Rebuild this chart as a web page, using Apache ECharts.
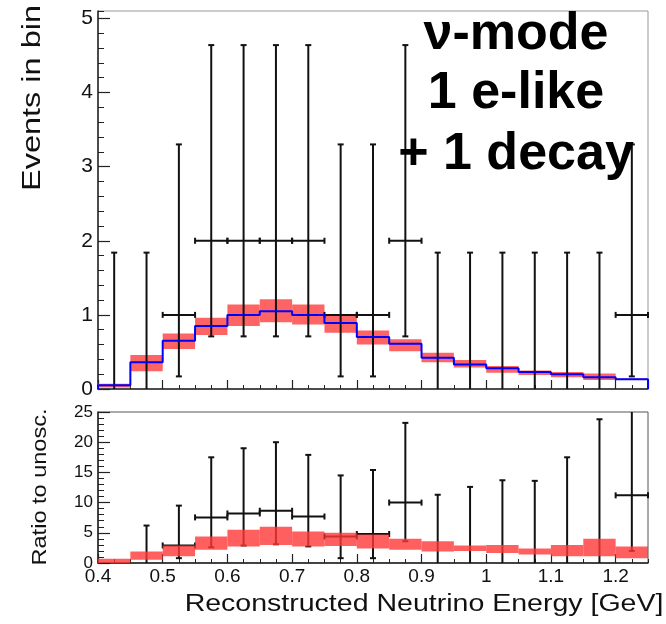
<!DOCTYPE html>
<html>
<head>
<meta charset="utf-8">
<script src="https://cdn.jsdelivr.net/npm/echarts@6/dist/echarts.min.js"></script>
<style>html,body{margin:0;padding:0;background:#fff}#chart{width:666px;height:624px}</style>
</head>
<body>
<div id="chart"></div>
<script>
// Bin edges (GeV)
const binEdges = [0.4, 0.45, 0.5, 0.55, 0.6, 0.65, 0.7, 0.75, 0.8, 0.85, 0.9, 0.95, 1.0, 1.05, 1.1, 1.15, 1.2, 1.25];
// Top panel: prediction (blue) and its uncertainty band (red)
const predicted = [0.05, 0.36, 0.65, 0.85, 1.0, 1.05, 1.0, 0.89, 0.70, 0.61, 0.42, 0.33, 0.28, 0.23, 0.20, 0.16, 0.13];
const bandLow  = [0.02, 0.24, 0.54, 0.73, 0.85, 0.90, 0.87, 0.76, 0.60, 0.51, 0.36, 0.29, 0.22, 0.19, 0.16, 0.12, 0.12];
const bandHigh = [0.07, 0.46, 0.75, 0.96, 1.14, 1.21, 1.14, 1.01, 0.79, 0.67, 0.49, 0.39, 0.31, 0.25, 0.23, 0.21, 0.14];
// Top panel: observed events with Poisson error bars
const dataCounts = [0, 0, 1, 2, 2, 2, 2, 1, 1, 2, 0, 0, 0, 0, 0, 0, 1];
const dataLow    = [0, 0, 0.17, 0.71, 0.71, 0.71, 0.71, 0.17, 0.17, 0.71, 0, 0, 0, 0, 0, 0, 0.17];
const dataHigh   = [1.84, 1.84, 3.30, 4.64, 4.64, 4.64, 4.64, 3.30, 3.30, 4.64, 1.84, 1.84, 1.84, 1.84, 1.84, 1.84, 3.30];
// Bottom panel: ratio to unoscillated
const ratioBandLow  = [0, 0.55, 1.1, 2.2, 2.75, 3.0, 2.75, 2.8, 2.4, 2.2, 1.9, 2.0, 1.65, 1.4, 1.1, 1.1, 0.8];
const ratioBandHigh = [0.7, 1.9, 2.9, 4.4, 5.5, 6.0, 5.2, 5.0, 4.7, 4.0, 3.6, 2.9, 3.0, 2.4, 3.0, 4.0, 2.75];
const ratioVals = [null, 0, 2.9, 7.55, 8.2, 8.65, 7.7, 4.4, 4.8, 10.0, 0, 0, 0, 0, 0, 0, 11.2];
const ratioLow  = [null, 0, 0.8, 2.6, 2.9, 3.1, 2.75, 0.8, 0.8, 3.6, 0, 0, 0, 0, 0, 0, 2.0];
const ratioHigh = [null, 6.2, 9.5, 17.5, 19.0, 20.0, 17.9, 14.5, 15.4, 23.2, 11.3, 12.6, 13.7, 13.6, 17.5, 23.8, 27];

const FONT = '"Liberation Sans", Arial, sans-serif';

function bandItems(lo, hi) {
  return lo.map((l, i) => [binEdges[i], binEdges[i + 1], l, hi[i]]);
}
function errItems(vals, lo, hi) {
  const out = [];
  vals.forEach((v, i) => {
    if (v === null) return;
    out.push([(binEdges[i] + binEdges[i + 1]) / 2, v, lo[i], hi[i], binEdges[i], binEdges[i + 1]]);
  });
  return out;
}
const stepPts = [[binEdges[0], 0]];
predicted.forEach((v, i) => { stepPts.push([binEdges[i], v]); stepPts.push([binEdges[i + 1], v]); });
stepPts.push([binEdges[binEdges.length - 1], 0]);

function renderBand(color) {
  return function (params, api) {
    const p1 = api.coord([api.value(0), api.value(3)]);
    const p2 = api.coord([api.value(1), api.value(2)]);
    return { type: 'rect', shape: { x: p1[0], y: p1[1], width: p2[0] - p1[0], height: p2[1] - p1[1] },
      style: { fill: color } };
  };
}
function renderErr(params, api) {
  const c = api.value(0), v = api.value(1), lo = api.value(2), hi = api.value(3), e0 = api.value(4), e1 = api.value(5);
  const top = params.coordSys.y;
  const pLo = api.coord([c, lo]), pHi = api.coord([c, hi]);
  const st = { stroke: '#111', lineWidth: 2 };
  const ch = [];
  const yHi = Math.max(pHi[1], top);
  ch.push({ type: 'line', shape: { x1: pLo[0], y1: pLo[1], x2: pHi[0], y2: yHi }, style: st });
  if (pHi[1] >= top) ch.push({ type: 'line', shape: { x1: pHi[0] - 3, y1: yHi, x2: pHi[0] + 3, y2: yHi }, style: st });
  if (lo > 0) ch.push({ type: 'line', shape: { x1: pLo[0] - 3, y1: pLo[1], x2: pLo[0] + 3, y2: pLo[1] }, style: st });
  if (v > 0) {
    const a = api.coord([e0, v]), b = api.coord([e1, v]);
    ch.push({ type: 'line', shape: { x1: a[0], y1: a[1], x2: b[0], y2: b[1] }, style: st });
    ch.push({ type: 'line', shape: { x1: a[0], y1: a[1] - 3, x2: a[0], y2: a[1] + 3 }, style: st });
    ch.push({ type: 'line', shape: { x1: b[0], y1: b[1] - 3, x2: b[0], y2: b[1] + 3 }, style: st });
  }
  return { type: 'group', children: ch };
}

const axLine = { show: true, lineStyle: { color: '#222', width: 1.5 } };
function xMain(grid, labels) {
  return { type: 'value', gridIndex: grid, position: 'bottom', min: 0.4, max: 1.25, interval: 0.1,
    axisLine: axLine, splitLine: { show: false },
    axisTick: { show: true, inside: true, length: 9, lineStyle: { color: '#222', width: 1.2 } },
    axisLabel: { show: labels, showMaxLabel: false, margin: 4, fontSize: 19, color: '#111', fontFamily: FONT } };
}
function xMinor(grid) {
  return { type: 'value', gridIndex: grid, position: 'bottom', min: 0.4, max: 1.25, interval: 0.025,
    axisLine: { show: false }, splitLine: { show: false }, axisLabel: { show: false },
    axisTick: { show: true, inside: true, length: 4, lineStyle: { color: '#222', width: 1 } } };
}
function yMain(grid, max, interval, fs) {
  return { type: 'value', gridIndex: grid, position: 'left', min: 0, max: max, interval: interval,
    axisLine: axLine, splitLine: { show: false },
    axisTick: { show: true, inside: true, length: 12, lineStyle: { color: '#222', width: 1.2 } },
    axisLabel: { showMaxLabel: max % interval === 0, margin: 5, fontSize: fs, color: '#111', fontFamily: FONT } };
}
function yMinor(grid, max, interval) {
  return { type: 'value', gridIndex: grid, position: 'left', min: 0, max: max, interval: interval,
    axisLine: { show: false }, splitLine: { show: false }, axisLabel: { show: false },
    axisTick: { show: true, inside: true, length: 6, lineStyle: { color: '#222', width: 1 } } };
}

const chart = echarts.init(document.getElementById('chart'), null, { renderer: 'canvas' });
chart.setOption({
  animation: false,
  backgroundColor: '#fff',
  grid: [
    { left: 98, top: 11, width: 550, height: 378, show: true, borderColor: '#999', borderWidth: 1, backgroundColor: 'transparent' },
    { left: 98, top: 412, width: 550, height: 151, show: true, borderColor: '#555', borderWidth: 1, backgroundColor: 'transparent' }
  ],
  xAxis: [xMain(0, false), xMinor(0), xMain(1, true), xMinor(1)],
  yAxis: [yMain(0, 5.1, 1, 21), yMinor(0, 5.1, 0.2), yMain(1, 25, 5, 17), yMinor(1, 25, 1)],
  series: [
    { type: 'custom', xAxisIndex: 0, yAxisIndex: 0, z: 1, renderItem: renderBand('#ff6464'),
      data: bandItems(bandLow, bandHigh) },
    { type: 'custom', xAxisIndex: 0, yAxisIndex: 0, z: 2, renderItem: renderErr,
      data: errItems(dataCounts, dataLow, dataHigh) },
    { type: 'line', xAxisIndex: 0, yAxisIndex: 0, z: 3, showSymbol: false, symbol: 'none',
      lineStyle: { color: '#0000ff', width: 2 }, data: stepPts },
    { type: 'custom', xAxisIndex: 2, yAxisIndex: 2, z: 1, renderItem: renderErr,
      data: errItems(ratioVals, ratioLow, ratioHigh) },
    { type: 'custom', xAxisIndex: 2, yAxisIndex: 2, z: 2, renderItem: renderBand('rgba(255,55,55,0.8)'),
      data: bandItems(ratioBandLow, ratioBandHigh) }
  ],
  graphic: [
    { type: 'text', x: 33, y: 98, rotation: Math.PI / 2, scaleX: 1.3, z: 10,
      style: { text: 'Events in bin', font: '25px ' + FONT, fill: '#111', align: 'center', verticalAlign: 'middle' } },
    { type: 'text', x: 40, y: 487, rotation: Math.PI / 2, scaleX: 1.12, z: 10,
      style: { text: 'Ratio to unosc.', font: '21px ' + FONT, fill: '#111', align: 'center', verticalAlign: 'middle' } },
    { type: 'text', x: 424, y: 605, scaleX: 1.24, z: 10,
      style: { text: 'Reconstructed Neutrino Energy [GeV]', font: '23px ' + FONT, fill: '#111', align: 'center', verticalAlign: 'middle' } },
    { type: 'text', x: 516, y: 35, z: 20,
      style: { text: 'ν-mode', font: 'bold 52px ' + FONT, fill: '#000', align: 'center', verticalAlign: 'middle' } },
    { type: 'text', x: 516, y: 94, z: 20,
      style: { text: '1 e-like', font: 'bold 52px ' + FONT, fill: '#000', align: 'center', verticalAlign: 'middle' } },
    { type: 'text', x: 516, y: 155, z: 20,
      style: { text: '+ 1 decay', font: 'bold 52px ' + FONT, fill: '#000', align: 'center', verticalAlign: 'middle' } }
  ]
});
</script>
</body>
</html>
